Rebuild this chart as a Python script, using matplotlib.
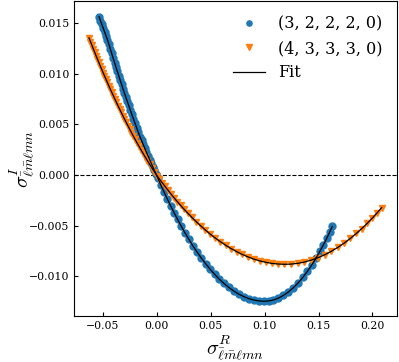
import matplotlib
matplotlib.use("Agg")
import matplotlib.pyplot as plt

plt.rcParams['font.family'] = ['DejaVu Serif']
plt.rcParams['mathtext.fontset'] = 'cm'

labels = ["(3, 2, 2, 2, 0)", "(4, 3, 3, 3, 0)", "Fit"]

blue_x = [-0.0532, -0.0519, -0.0506, -0.0493, -0.0480, -0.0467, -0.0454, -0.0441, -0.0428, -0.0415,
          -0.0402, -0.0389, -0.0376, -0.0363, -0.0350, -0.0337, -0.0324, -0.0311, -0.0298, -0.0285,
          -0.0272, -0.0259, -0.0244, -0.0229, -0.0214, -0.0199, -0.0184, -0.0169, -0.0154, -0.0139,
          -0.0124, -0.0109, -0.0094, -0.0079, -0.0064, -0.0049, -0.0034, -0.0019, -0.0004,
          0.0012, 0.0040, 0.0069, 0.0099, 0.0130, 0.0162, 0.0195, 0.0229, 0.0264, 0.0300,
          0.0337, 0.0375, 0.0414, 0.0454, 0.0495, 0.0537, 0.0580, 0.0624, 0.0669, 0.0715,
          0.0761, 0.0807, 0.0853, 0.0899, 0.0945, 0.0991, 0.1037, 0.1083, 0.1129, 0.1175,
          0.1221, 0.1267, 0.1312, 0.1356, 0.1398, 0.1438, 0.1476, 0.1512, 0.1546, 0.1578,
          0.1604, 0.1628]
blue_y = [0.01566, 0.01528, 0.01490, 0.01452, 0.01414, 0.01376, 0.01338, 0.01294, 0.01248, 0.01203,
          0.01158, 0.01113, 0.01069, 0.01026, 0.00983, 0.00940, 0.00897, 0.00855, 0.00814, 0.00773,
          0.00732, 0.00692, 0.00646, 0.00600, 0.00555, 0.00511, 0.00467, 0.00424, 0.00381, 0.00342,
          0.00303, 0.00265, 0.00227, 0.00190, 0.00153, 0.00116, 0.00080, 0.00045, 0.00009,
          -0.00030, -0.00098, -0.00167, -0.00235, -0.00304, -0.00372, -0.00440, -0.00507, -0.00573, -0.00638,
          -0.00701, -0.00762, -0.00821, -0.00877, -0.00931, -0.00982, -0.01030, -0.01073, -0.01113, -0.01148,
          -0.01179, -0.01203, -0.01223, -0.01237, -0.01246, -0.01250, -0.01247, -0.01237, -0.01219, -0.01192,
          -0.01158, -0.01116, -0.01067, -0.01012, -0.00952, -0.00889, -0.00824, -0.00757, -0.00690, -0.00622,
          -0.00564, -0.00509]

orange_x = [-0.0625, -0.0612, -0.0599, -0.0586, -0.0573, -0.0560, -0.0547, -0.0534, -0.0521, -0.0508,
            -0.0495, -0.0482, -0.0469, -0.0456, -0.0442, -0.0428, -0.0414, -0.0400, -0.0386, -0.0372,
            -0.0357, -0.0342, -0.0327, -0.0312, -0.0297, -0.0281, -0.0265, -0.0249, -0.0232, -0.0215,
            -0.0198, -0.0180, -0.0162, -0.0143, -0.0124, -0.0104, -0.0084, -0.0063, -0.0042, -0.0020,
            0.0003, 0.0027, 0.0052, 0.0078, 0.0105, 0.0133, 0.0162, 0.0192, 0.0223, 0.0256,
            0.0291, 0.0328, 0.0367, 0.0408, 0.0451, 0.0496, 0.0543, 0.0591, 0.0640, 0.0690,
            0.0741, 0.0793, 0.0846, 0.0900, 0.0955, 0.1011, 0.1068, 0.1126, 0.1185, 0.1245,
            0.1306, 0.1368, 0.1431, 0.1494, 0.1557, 0.1619, 0.1680, 0.1739, 0.1796, 0.1850,
            0.1901, 0.1950, 0.1996, 0.2040, 0.2085]
orange_y = [0.01357, 0.01321, 0.01286, 0.01250, 0.01216, 0.01181, 0.01147, 0.01114, 0.01080, 0.01047,
            0.01014, 0.00982, 0.00950, 0.00918, 0.00884, 0.00850, 0.00817, 0.00785, 0.00752, 0.00720,
            0.00686, 0.00653, 0.00620, 0.00587, 0.00555, 0.00521, 0.00488, 0.00455, 0.00420, 0.00386,
            0.00352, 0.00318, 0.00283, 0.00248, 0.00213, 0.00177, 0.00141, 0.00105, 0.00069, 0.00032,
            -0.00005, -0.00040, -0.00076, -0.00112, -0.00149, -0.00187, -0.00225, -0.00263, -0.00301, -0.00340,
            -0.00380, -0.00420, -0.00461, -0.00502, -0.00543, -0.00584, -0.00623, -0.00660, -0.00695, -0.00728,
            -0.00758, -0.00786, -0.00810, -0.00832, -0.00850, -0.00864, -0.00875, -0.00881, -0.00884, -0.00882,
            -0.00875, -0.00862, -0.00843, -0.00819, -0.00790, -0.00755, -0.00716, -0.00673, -0.00627, -0.00579,
            -0.00530, -0.00480, -0.00429, -0.00378, -0.00323]

xticks = [-0.05, 0.00, 0.05, 0.10, 0.15, 0.20]
yticks = [-0.010, -0.005, 0.000, 0.005, 0.010, 0.015]

fig = plt.figure(figsize=(3.99, 3.62), dpi=100)
ax = fig.add_axes([0.1855, 0.127, 0.8087, 0.869])

ax.axhline(0, color='black', lw=0.8, ls='--', zorder=1)
ax.plot(blue_x, blue_y, 'o', color='#1f77b4', ms=5, label=labels[0], zorder=2)
ax.plot(orange_x, orange_y, 'v', color='#ff7f0e', ms=5, label=labels[1], zorder=2)
ax.plot(blue_x, blue_y, '-', color='black', lw=0.9, label=labels[2], zorder=3)
ax.plot(orange_x, orange_y, '-', color='black', lw=0.9, zorder=3)

ax.set_xlim(-0.0764, 0.2224)
ax.set_ylim(-0.01396, 0.01718)
ax.set_xticks(xticks)
ax.set_yticks(yticks)
ax.set_xticklabels([f"{v:.2f}".replace('-', '\u2212') for v in xticks])
ax.set_yticklabels([f"{v:.3f}".replace('-', '\u2212') for v in yticks])
ax.tick_params(direction='in', labelsize=7.8, length=3)

ax.set_xlabel(r'$\sigma^{R}_{\bar{\ell}\bar{m}\ell m n}$', fontsize=14.5)
ax.set_ylabel(r'$\sigma^{I}_{\bar{\ell}\bar{m}\ell m n}$', fontsize=14.5)
ax.xaxis.set_label_coords(0.5, -0.056)
ax.yaxis.set_label_coords(-0.115, 0.5)

ax.legend(loc='upper right', frameon=False, fontsize=11.5, markerscale=0.75,
          labelspacing=0.45, handlelength=2)

fig.savefig('out.png', dpi=100)
